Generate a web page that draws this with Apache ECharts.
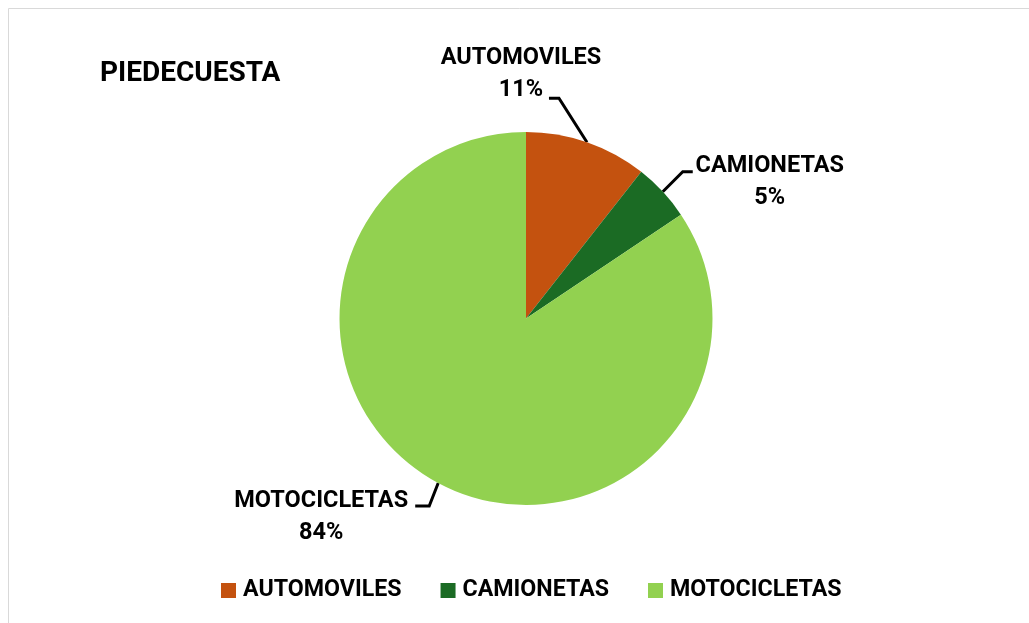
<!DOCTYPE html>
<html>
<head>
<meta charset="utf-8">
<script src="https://cdn.jsdelivr.net/npm/echarts@6/dist/echarts.min.js"></script>
<style>
  html, body { margin: 0; padding: 0; background: #fff; }
  #main { width: 1029px; height: 623px; }
</style>
</head>
<body>
<div id="main"></div>
<script>
// datos del grafico
var titulo = 'PIEDECUESTA'
var categorias = ['AUTOMOVILES', 'CAMIONETAS', 'MOTOCICLETAS']
var porcentajes = [10.6, 5.0, 84.4]
var colores = ['#C4520F', '#1B6B24', '#92D150']

// desplazamientos de las etiquetas respecto al borde del pastel
var codo = [[-28, -44], [20, -20], [-9, 23]]
var tramo = [-10, 10, -14]
var etiqueta = [[-28, -24], [77, 10], [-94, 11]]

var fuente = 'Roboto, Liberation Sans, sans-serif'

var chart = echarts.init(document.getElementById('main'))
chart.setOption({
  animation: false,
  color: colores,
  graphic: [{
    type: 'rect',
    shape: { x: 8.5, y: 8.5, width: 1100, height: 700 },
    style: { fill: 'none', stroke: '#d9d9d9', lineWidth: 1 }
  }],
  title: {
    text: titulo,
    left: 100,
    top: 60,
    padding: 0,
    textStyle: { fontFamily: fuente, fontSize: 28, fontWeight: 'bold', color: '#000' }
  },
  legend: {
    data: categorias,
    left: 221,
    top: 579,
    padding: 0,
    icon: 'rect',
    itemWidth: 15,
    itemHeight: 15,
    itemGap: 39,
    textStyle: { fontFamily: fuente, fontSize: 23.2, fontWeight: 'bold', color: '#000', padding: [0, 0, 0, 2] }
  },
  series: [{
    type: 'pie',
    center: [526, 318.5],
    radius: 186.5,
    startAngle: 90,
    clockwise: true,
    percentPrecision: 0,
    data: categorias.map(function (c, i) { return { name: c, value: porcentajes[i] } }),
    label: {
      show: true,
      position: 'outside',
      formatter: '{b}\n{d}%',
      fontFamily: fuente,
      fontSize: 23.5,
      fontWeight: 'bold',
      color: '#000',
      lineHeight: 32,
      align: 'center'
    },
    labelLine: {
      show: true,
      length: 20,
      length2: 10,
      lineStyle: { color: '#000', width: 3 }
    },
    labelLayout: function (params) {
      var i = params.dataIndex
      var p0 = params.labelLinePoints[0]
      var p1 = [p0[0] + codo[i][0], p0[1] + codo[i][1]]
      var p2 = [p1[0] + tramo[i], p1[1]]
      return {
        x: p2[0] + etiqueta[i][0],
        y: p2[1] + etiqueta[i][1],
        align: 'center',
        verticalAlign: 'middle',
        labelLinePoints: [p0, p1, p2]
      }
    }
  }]
})
</script>
</body>
</html>
